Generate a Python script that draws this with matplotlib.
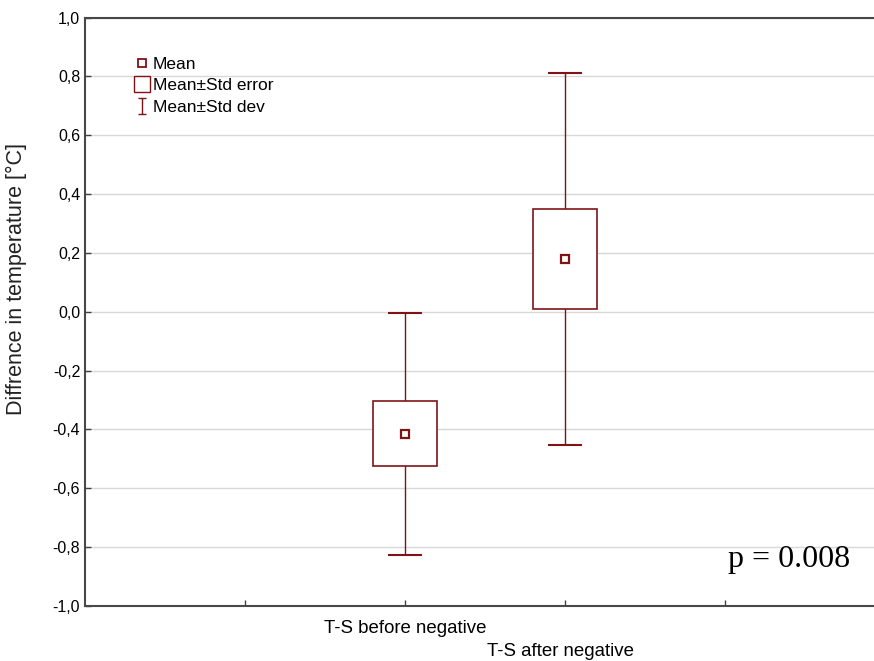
import numpy as np
import matplotlib.pyplot as plt
from matplotlib.lines import Line2D
from matplotlib.path import Path

plt.rcParams['font.family'] = ['Liberation Sans', 'DejaVu Sans']

# data
groups = ['T-S before negative', 'T-S after negative']
pos = [2, 3]
means = [-0.415, 0.178]
std_err = [0.110, 0.170]
std_dev = [0.410, 0.632]
p_text = 'p = 0.008'

red = '#7f1416'

fig = plt.figure(figsize=(8.74, 6.61), dpi=100)
ax = fig.add_axes([85/874, 1-606/661, 800/874, (606-17.5)/661])

# std dev whiskers
ax.errorbar(pos, means, yerr=std_dev, fmt='none', ecolor=red, elinewidth=1.0,
            capsize=12, capthick=1.5, zorder=2)
# std error boxes
bottoms = [m-s for m, s in zip(means, std_err)]
heights = [2*s for s in std_err]
ax.bar(pos, heights, bottom=bottoms, width=0.4, facecolor='white', edgecolor=red,
       linewidth=1.2, zorder=3)
# means
ax.plot(pos, means, 's', ms=6, mfc='white', mec=red, mew=1.6, zorder=4, linestyle='none')

ax.set_xlim(0, 5)
ax.set_ylim(-1.0, 1.0)
yt = np.arange(-1.0, 1.01, 0.2)
ax.set_yticks(yt)
ax.set_yticklabels([('%.1f' % v).replace('.', ',').replace('-0,0', '0,0') for v in yt], fontsize=11.5)
ax.set_xticks([1, 2, 3, 4])
ax.set_xticklabels([])
ax.tick_params(direction='in', length=4, width=1, color='#404040')
ax.yaxis.grid(True, color='#d8d8d8', linewidth=1)
ax.set_axisbelow(True)
for s in ax.spines.values():
    s.set_color('#484848')
    s.set_linewidth(1.5)

# staggered category labels
trans = ax.get_xaxis_transform()
ax.text(pos[0], -0.024, groups[0], transform=trans, ha='center', va='top', fontsize=13.4)
ax.text(pos[1]-0.03, -0.063, groups[1], transform=trans, ha='center', va='top', fontsize=13.4)

ax.set_ylabel('Diffrence in temperature [°C]', fontsize=15.5, color='#222222')
ax.yaxis.set_label_coords(-0.072, 0.556)

ax.text(0.957, 0.055, p_text, transform=ax.transAxes, ha='right', va='bottom',
        fontsize=23, family=['Liberation Serif', 'DejaVu Serif'])

# legend
ibar = Path([(-0.5, 1), (0.5, 1), (0, 1), (0, -1), (-0.5, -1), (0.5, -1)],
            [Path.MOVETO, Path.LINETO, Path.MOVETO, Path.LINETO, Path.MOVETO, Path.LINETO])
handles = [
    Line2D([], [], marker='s', ms=6, mfc='white', mec=red, mew=1.3, linestyle='none'),
    Line2D([], [], marker='s', ms=11.5, mfc='white', mec=red, mew=1.0, linestyle='none'),
    Line2D([], [], marker=ibar, ms=12, mfc='none', mec=red, mew=1.0, linestyle='none'),
]
ax.legend(handles, ['Mean', 'Mean±Std error', 'Mean±Std dev'], loc='upper left',
          bbox_to_anchor=(0.061, 0.933), frameon=False, fontsize=12.5, handlelength=0.9,
          handletextpad=0.2, labelspacing=0.36, borderaxespad=0, borderpad=0)

fig.savefig('out.png', dpi=100)
